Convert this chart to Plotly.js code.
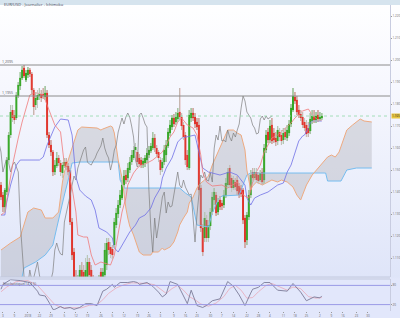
<!DOCTYPE html>
<html><head><meta charset="utf-8">
<script src="https://cdn.plot.ly/plotly-3.0.1.min.js"></script>
<style>
html,body{margin:0;padding:0;}
#chart{width:400px;height:318px;background:linear-gradient(#ffffff 0px,#f6f7fe 90px,#e9edfb 200px,#dfe5f9 277px,#e2e7fb 279px,#e2e7fb 318px);}
</style></head>
<body><div id="chart"></div>
<script>
// ---- candles (index = trading session) ----
const O = [95,85,73,88,120,145,170,165,162,184, 194,202,212,200,205,210,206,190,175,180, 184,186,186,183,187,145,135,128,108,114, 122,117,107,114,118,114,110,58,28,3, -10,-5,10,8,-5,2,18,10,-5,-15, -20,-10,8,0,5,15,38,33,31,35, 55,66,75,82,95,105,102,110,118,122, 130,128,122,120,115,117,120,125,129,132, 142,132,128,120,112,118,125,134,147,153, 162,158,161,168,163,155,145,125,112,162, 167,163,158,155,92,52,42,60,42,54, 68,80,85,68,80,77,75,84,95,112, 102,92,98,100,94,92,90,62,40,63, 85,108,102,108,105,100,108,100,130,148, 140,155,147,142,139,148,145,140,148,142, 147,156,170,183,180,170,166,163,158,155, 152,149,159,164,160,165,161,162];
const C = [83,73,90,120,145,168,162,160,185,195, 202,210,204,207,210,206,190,173,182,185, 186,182,184,187,145,135,128,108,115,122, 117,108,115,118,113,108,58,25,3,-10, -5,10,0,2,10,18,5,-5,-15,-20, -10,2,0,8,30,37,30,26,25,58, 67,75,85,95,104,100,112,118,125,130, 133,118,116,115,119,122,127,130,134,142, 132,126,122,110,118,130,135,148,155,162, 156,163,167,163,154,143,120,113,165,167, 162,156,153,90,52,28,62,42,55,68, 83,88,67,78,73,74,85,97,108,95, 92,100,93,89,85,86,60,38,65,85, 105,102,108,100,99,107,98,132,145,140, 154,139,140,138,150,143,139,147,143,150, 156,172,184,179,168,165,162,155,152,146, 147,161,164,160,164,161,163,164];
const H = [98,88,92,123,148,175,175,170,188,198, 208,214,215,210,213,212,208,192,188,190, 192,190,192,194,190,148,140,130,120,128, 125,120,118,122,122,117,112,62,32,10, 5,15,18,15,22,25,22,15,5,-5, 0,5,12,12,37,42,42,38,35,62, 72,80,90,100,110,110,117,123,130,134, 137,130,126,123,122,125,132,134,137,148, 146,135,130,123,122,135,140,152,160,165, 166,168,172,192,167,158,148,130,170,172, 172,167,162,162,95,56,68,65,60,72, 88,92,88,82,84,80,90,102,112,115, 105,104,102,104,97,95,92,65,68,90, 110,112,112,112,108,110,112,136,150,152, 160,162,152,148,154,152,150,152,152,155, 160,176,192,188,184,175,170,168,162,160, 158,167,170,170,168,170,168,167];
const L = [80,68,68,85,117,142,158,156,160,182, 190,200,202,198,202,203,185,165,170,172, 180,178,181,180,142,132,124,104,105,112, 114,104,102,112,110,105,55,20,0,-15, -15,-10,-5,-3,-10,-5,0,-10,-20,-25, -25,-15,-5,-5,0,10,25,22,21,32, 52,62,72,80,92,96,98,107,115,120, 127,114,113,112,112,113,117,122,127,130, 128,123,118,105,108,115,118,132,144,150, 153,155,158,160,150,140,115,110,110,158, 159,152,150,85,48,24,38,38,38,50, 65,75,64,65,70,70,72,82,92,92, 88,90,90,85,82,83,56,32,35,60, 82,98,100,97,96,98,95,96,127,137, 137,136,137,134,135,139,135,136,140,139, 144,153,168,176,165,162,159,152,149,143, 143,146,156,157,157,158,159,160];

// ---- Ichimoku lines (index, value) ----
const senkouBIdx = [0,10,12,18,23,27,29,31,33,35,37,41,61,62,64,93,96,99,102,108,110,113,115,124,128,130,169,170,177,180,185,193];
const senkouBVal = [-10,-5,12,18,25,35,52,70,85,100,117,118,118,100,92,92,87,83,55,53,67,80,84,85,105,107,107,99,99,110,112,112];
const senkouAIdx = [0,5,10,14,17,21,23,27,30,31,32,33,36,38,40,42,50,52,53,57,58,59,60,61,63,64,65,66,67,69,71,72,74,78,79,82,84,85,88,90,92,93,95,97,98,100,102,104,106,108,110,113,116,118,121,123,125,127,128,130,131,133,136,139,141,144,146,149,152,154,156,157,159,162,165,167,170,172,174,176,178,180,183,185,187,189,193];
const senkouAVal = [30,37,43,68,72,70,62,62,68,85,98,108,125,138,150,153,152,150,151,154,153,147,135,120,102,85,72,62,54,45,35,28,25,25,28,28,32,30,33,38,48,55,62,68,77,83,92,97,100,104,115,128,142,150,150,147,145,130,110,90,94,98,95,98,100,98,100,98,93,85,80,85,95,105,112,117,123,125,123,128,140,150,155,158,161,159,158];
const tenkanIdx = [0,2,4,6,9,11,14,15,17,19,22,24,27,28,31,32,33,35,37,39,40,43,45,47,49,52,57,59,61,63,65,66,69,71,73,76,79,81,84,86,88,90,92,94,96,97,100,102,104,105,107,110,115,118,123,124,126,129,131,132,135,137,139,141,144,148,151,153,157,160,162,165,167];
const tenkanVal = [65,68,92,115,142,158,178,185,187,187,185,175,158,155,148,132,115,108,92,68,45,43,43,25,15,18,15,25,48,68,82,95,107,112,115,117,120,123,128,135,143,148,158,162,158,155,152,145,125,108,98,94,95,92,98,95,85,82,98,105,115,128,135,142,145,152,157,162,169,171,165,160,160];
const kijunIdx = [0,2,3,5,8,10,20,22,24,26,28,31,35,37,38,39,41,44,47,49,51,55,58,59,61,63,65,67,70,72,75,78,80,83,84,86,89,90,92,94,97,101,103,105,108,114,119,123,125,127,128,130,132,135,139,144,147,149,151,153,155,157,158,160,161,162,167];
const kijunVal = [65,65,78,95,115,120,120,123,135,145,153,161,160,145,120,103,90,84,80,70,52,48,42,32,28,35,42,48,55,62,65,72,82,92,102,112,122,128,138,142,143,145,128,112,108,105,108,105,100,95,82,75,82,85,88,95,97,108,115,127,139,144,145,152,157,159,159];
const chikouShift = 26;

// ---- oscillator panel ----
const oscIdx = [0,1,5,10,15,19,20,23,26,27,28,31,33,36,38,41,44,47,50,52,53,55,58,59,62,66,69,71,72,76,79,82,84,86,88,92,94,97,99,102,105,107,110,114,118,121,124,127,130,131,134,137,140,144,149,152,156,159,163,166,167];
const oscVal = [68,83,98,95,89,62,50,47,17,5,5,14,8,11,5,11,23,23,17,47,62,68,83,74,89,89,92,89,83,89,77,59,44,53,92,83,59,23,65,17,11,17,32,38,92,77,50,17,56,68,74,89,89,65,62,86,59,32,44,41,47];
const sigIdx = [0,3,8,14,19,22,25,28,32,37,42,46,50,53,56,60,64,68,72,76,80,83,86,89,92,95,98,101,104,108,112,116,119,122,125,128,131,134,138,141,145,149,152,156,160,164,167];
const sigVal = [60,75,92,95,80,60,40,20,10,9,10,18,20,35,55,72,82,88,88,86,82,68,55,70,80,65,45,35,22,15,25,45,70,80,65,40,42,60,80,86,75,65,75,70,45,40,42];
const oscLevels = [80,20];

// ---- horizontal levels and axis labels ----
const levels = [215,184];
const levelLabels = ['1,2095','1,1955'];
const priceTicks = [22,44,66,88,110,132,154,176,198,220,242,264];
const priceTickLabels = ['1.110','1.120','1.130','1.140','1.150','1.160','1.170','1.180','1.190','1.200','1.210','1.220'];
const lastLabel = '1.165';
const dateTicks = [1,7,14,20,26,33,39,45,52,58,64,71,77,83,90,96,102,109,115,121,128,134,140,147,153,159,166,172,178,185,191];
const dateTickLabels = ['3','9','2018','22','29','5','12','19','26','5','12','19','26','3','9','16','23','30','7','14','22','28','4','11','18','25','2','9','16','23','30'];
const headerText = 'EUR/USD - Journalier - Ichimoku';

const N = C.length;
const idx = Array.from({length:N},(_,i)=>i);
const wx=[],wy=[];
for(let i=0;i<N;i++){
  const top=Math.max(O[i],C[i]), bot=Math.min(O[i],C[i]);
  wx.push(i,i,null,i,i,null); wy.push(top,H[i],null,L[i],bot,null);
}
const chX = idx.map(i=>i-chikouShift);

const traces = [
 {type:'scatter',mode:'lines',x:senkouBIdx,y:senkouBVal,line:{color:'#76bdf0',width:1},hoverinfo:'skip'},
 {type:'scatter',mode:'lines',x:senkouAIdx,y:senkouAVal,line:{color:'#eeaa80',width:1},fill:'tonexty',fillcolor:'rgba(165,165,170,0.33)',hoverinfo:'skip'},
 {type:'scatter',mode:'lines',x:chX,y:C,line:{color:'#7c7c7c',width:0.7},hoverinfo:'skip'},
 {type:'scatter',mode:'lines',x:kijunIdx,y:kijunVal,line:{color:'#7070e6',width:0.8},hoverinfo:'skip'},
 {type:'scatter',mode:'lines',x:tenkanIdx,y:tenkanVal,line:{color:'#f07a7a',width:0.8},hoverinfo:'skip'},
 {type:'candlestick',x:idx,open:O,high:H,low:L,close:C,whiskerwidth:0,
  increasing:{line:{color:'#34a624',width:1},fillcolor:'#38aa26'},
  decreasing:{line:{color:'#e0342b',width:1},fillcolor:'#e63a30'},hoverinfo:'skip'},
 {type:'scatter',mode:'lines',x:wx,y:wy,line:{color:'#c2c9c2',width:1},hoverinfo:'skip'},
 {type:'scatter',mode:'lines',x:sigIdx,y:sigVal,xaxis:'x2',yaxis:'y2',line:{color:'#e8a8b8',width:0.8},hoverinfo:'skip'},
 {type:'scatter',mode:'lines',x:oscIdx,y:oscVal,xaxis:'x2',yaxis:'y2',line:{color:'#7c7c98',width:0.9},hoverinfo:'skip'}
];

const shapes = [];
levels.forEach(v=>shapes.push({type:'line',xref:'x domain',yref:'y',x0:0,x1:1,y0:v,y1:v,line:{color:'#8c8c8c',width:1}}));
shapes.push({type:'line',xref:'x domain',yref:'y',x0:0,x1:1,y0:C[N-1],y1:C[N-1],line:{color:'#8fd8a8',width:0.8,dash:'dot'}});
oscLevels.forEach(v=>shapes.push({type:'line',xref:'x2 domain',yref:'y2',x0:0,x1:1,y0:v,y1:v,line:{color:'#9a9ae6',width:1}}));
shapes.push({type:'line',xref:'paper',yref:'y domain',x0:0,x1:1,y0:0,y1:0,line:{color:'#c2c8dc',width:1}});
shapes.push({type:'line',xref:'paper',yref:'y2 domain',x0:0,x1:1,y0:1,y1:1,line:{color:'#c2c8dc',width:1}});
shapes.push({type:'rect',xref:'paper',yref:'paper',x0:0,x1:1.03,y0:1,y1:1.018,fillcolor:'#d6e4ee',line:{width:0},layer:'below'});

const annotations = [
 {xref:'paper',yref:'paper',x:0.005,y:1.017,xanchor:'left',yanchor:'top',text:headerText,showarrow:false,font:{size:4,color:'#445'}},
 {xref:'paper',yref:'y2 domain',x:0.003,y:1.0,xanchor:'left',yanchor:'top',text:'Stochastique(14,3,5)',showarrow:false,font:{size:3.5,color:'#556'}},
 {xref:'paper',yref:'y',x:1.002,y:C[N-1],xanchor:'left',yanchor:'middle',text:lastLabel,showarrow:false,bgcolor:'#e8c640',font:{size:3,color:'#222'},borderpad:0}
];
levels.forEach((v,k)=>annotations.push({xref:'paper',yref:'y',x:0.002,y:v,xanchor:'left',yanchor:'bottom',text:levelLabels[k],showarrow:false,font:{size:3.5,color:'#555'},borderpad:0}));

const layout = {
 width:400,height:318,margin:{l:0,r:10,t:5,b:7},
 paper_bgcolor:'rgba(0,0,0,0)',plot_bgcolor:'rgba(0,0,0,0)',showlegend:false,
 xaxis:{range:[-0.52,202.5],anchor:'y',showticklabels:false,showgrid:false,zeroline:false,rangeslider:{visible:false},ticks:''},
 xaxis2:{range:[-0.52,202.5],anchor:'y2',matches:'x',tickmode:'array',tickvals:dateTicks,ticktext:dateTickLabels,ticks:'outside',ticklen:1,tickcolor:'#999',tickfont:{size:3,color:'#666'},showgrid:false,zeroline:false,automargin:false},
 yaxis:{domain:[0.111,1],range:[3,275],side:'right',tickmode:'array',tickvals:priceTicks,ticktext:priceTickLabels,ticks:'outside',ticklen:1,tickcolor:'#999',tickfont:{size:3,color:'#666'},showline:true,linecolor:'#c8cce0',linewidth:1,showgrid:false,zeroline:false,automargin:false},
 yaxis2:{domain:[0,0.1046],range:[0,100],side:'right',tickmode:'array',tickvals:oscLevels,ticks:'outside',ticklen:1,tickcolor:'#999',tickfont:{size:3,color:'#666'},showline:true,linecolor:'#c8cce0',showgrid:false,zeroline:false,automargin:false},
 shapes:shapes,annotations:annotations
};
Plotly.newPlot('chart',traces,layout,{staticPlot:true,displayModeBar:false});
</script></body></html>
